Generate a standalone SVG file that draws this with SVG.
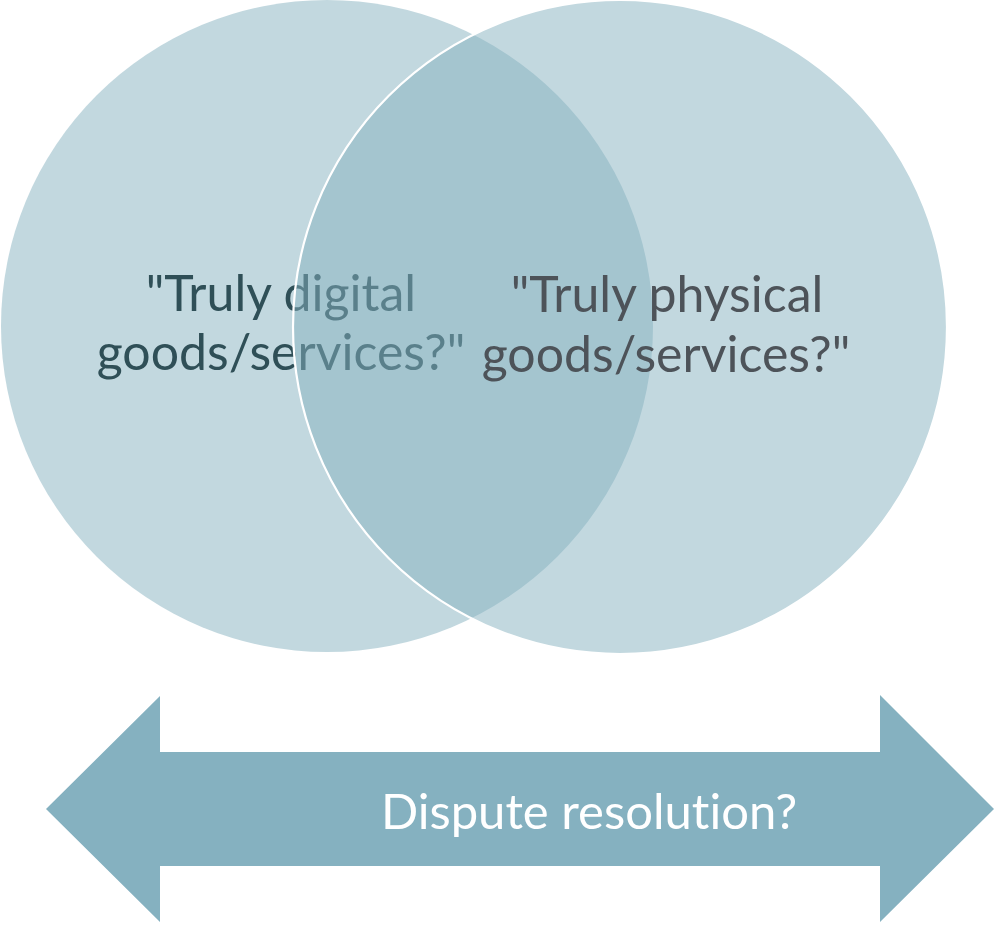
<svg xmlns="http://www.w3.org/2000/svg" width="996" height="925" viewBox="0 0 996 925">
<style>
.circ{fill:#85b1c0;fill-opacity:0.5}
.lbl{font-family:Lato,"Open Sans","Liberation Sans",sans-serif;font-size:50px;text-anchor:middle;font-variant-ligatures:none;font-feature-settings:"liga" 0}
</style>
<rect width="996" height="925" fill="#ffffff"/>
<g id="digital">
<circle class="circ" cx="327" cy="326" r="326"/>
<text class="lbl" fill="#2f4f57"><tspan x="281" y="311">"Truly digital</tspan><tspan x="281" y="370">goods/services?"</tspan></text>
</g>
<g id="physical">
<circle class="circ" cx="620" cy="327" r="327" stroke="#ffffff" stroke-width="2.2"/>
<text class="lbl" fill="#4d5359"><tspan x="667" y="312">"Truly physical</tspan><tspan x="666" y="372">goods/services?"</tspan></text>
</g>
<g id="connectors">
<g id="dispute">
<polygon points="46,809 160,696 160,752 880,752 880,695 994,809 880,922 880,866 160,866 160,922" fill="#85b1c0"/>
<text class="lbl" x="589" y="829" fill="#ffffff" style="font-size:49px">Dispute resolution?</text>
</g>
</g>
</svg>
